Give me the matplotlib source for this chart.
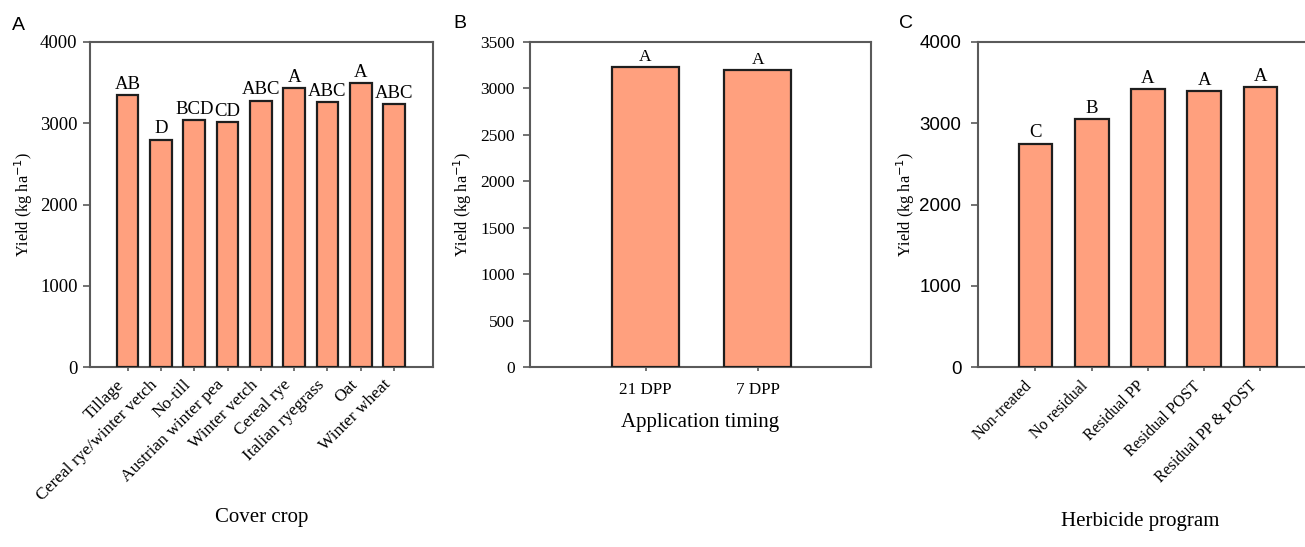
import numpy as np
import matplotlib.pyplot as plt

# panel A: cover crop
cover_crops = ["Tillage", "Cereal rye/winter vetch", "No-till", "Austrian winter pea",
               "Winter vetch", "Cereal rye", "Italian ryegrass", "Oat", "Winter wheat"]
cover_yield = [3350, 2800, 3040, 3010, 3280, 3430, 3260, 3500, 3240]
cover_letters = ["AB", "D", "BCD", "CD", "ABC", "A", "ABC", "A", "ABC"]

# panel B: application timing
timings = ["21 DPP", "7 DPP"]
timing_yield = [3230, 3200]
timing_letters = ["A", "A"]

# panel C: herbicide program
programs = ["Non-treated", "No residual", "Residual PP", "Residual POST", "Residual PP & POST"]
program_yield = [2750, 3050, 3420, 3400, 3450]
program_letters = ["C", "B", "A", "A", "A"]

SERIF = "Liberation Serif"
SANS = "Liberation Sans"
BAR = "#FFA07E"
EDGE = "#1e1e1e"
FRAME = "#5a5a5a"
W, H = 1305, 547


def add_ax(fig, left, right, top=42, bottom=367):
    return fig.add_axes([left / W, (H - bottom) / H, (right - left) / W, (bottom - top) / H])


def style(ax, tick_font, tick_size, pad):
    for s in ax.spines.values():
        s.set_color(FRAME)
        s.set_linewidth(1.5)
    ax.tick_params(axis="y", direction="out", length=5, width=1.2, color=FRAME,
                   labelsize=tick_size, pad=pad)
    ax.tick_params(axis="x", direction="out", length=3, width=1.2, color=FRAME)
    for t in ax.get_yticklabels():
        t.set_fontfamily(tick_font)


def bars(ax, x, vals, letters, width, fs):
    ax.bar(x, vals, width=width, color=BAR, edgecolor=EDGE, linewidth=1.6, zorder=3)
    for xi, v, l in zip(x, vals, letters):
        ax.annotate(l, (xi, v), xytext=(0, 1.5), textcoords="offset points",
                    ha="center", va="bottom", fontsize=fs, family=SERIF)


fig = plt.figure(figsize=(W / 100, H / 100), dpi=100)

# A
axA = add_ax(fig, 90, 433)
xa = np.arange(len(cover_crops))
bars(axA, xa, cover_yield, cover_letters, 0.65, 13.5)
axA.set_xlim(-1.13, 9.17)
axA.set_ylim(0, 4000)
axA.set_yticks([0, 1000, 2000, 3000, 4000])
axA.set_xticks(xa)
axA.set_xticklabels(cover_crops, rotation=45, ha="right", fontsize=12.5, family=SERIF)
style(axA, SERIF, 13.5, 4)
axA.tick_params(axis="x", pad=4)
axA.set_ylabel("Yield (kg ha$^{-1}$)", fontsize=11.7, family=SERIF)
axA.yaxis.set_label_coords(-0.160, 0.5)
axA.set_xlabel("Cover crop", fontsize=15, family=SERIF)
axA.xaxis.set_label_coords(0.5, -0.434)
fig.text(12 / W, 1 - 25 / H, "A", fontsize=14, family=SANS, va="center")

# B
axB = add_ax(fig, 530, 871)
xb = np.arange(len(timings))
bars(axB, xb, timing_yield, timing_letters, 0.6, 12.5)
axB.set_xlim(-1.03, 2.01)
axB.set_ylim(0, 3500)
axB.set_yticks(np.arange(0, 3501, 500))
axB.set_xticks(xb)
axB.set_xticklabels(timings, fontsize=12.3, family=SERIF)
style(axB, SERIF, 12.5, 6)
axB.tick_params(axis="x", pad=8)
axB.set_ylabel("Yield (kg ha$^{-1}$)", fontsize=11.7, family=SERIF)
axB.yaxis.set_label_coords(-0.163, 0.5)
axB.set_xlabel("Application timing", fontsize=15, family=SERIF)
axB.xaxis.set_label_coords(0.5, -0.142)
fig.text(453 / W, 1 - 24 / H, "B", fontsize=14, family=SANS, va="center")

# C
axC = add_ax(fig, 978, 1320)
xc = np.arange(len(programs))
bars(axC, xc, program_yield, program_letters, 0.6, 13.5)
axC.set_xlim(-1.02, 5.06)
axC.set_ylim(0, 4000)
axC.set_yticks([0, 1000, 2000, 3000, 4000])
axC.set_xticks(xc)
axC.set_xticklabels(programs, rotation=45, ha="right", fontsize=11.5, family=SERIF)
style(axC, SANS, 13.5, 7)
axC.tick_params(axis="x", pad=5)
axC.set_ylabel("Yield (kg ha$^{-1}$)", fontsize=11.7, family=SERIF)
axC.yaxis.set_label_coords(-0.179, 0.5)
axC.set_xlabel("Herbicide program", fontsize=15, family=SERIF)
axC.xaxis.set_label_coords(0.474, -0.446)
fig.text(899 / W, 1 - 24 / H, "C", fontsize=14, family=SANS, va="center")

fig.savefig("out.png", dpi=100)
